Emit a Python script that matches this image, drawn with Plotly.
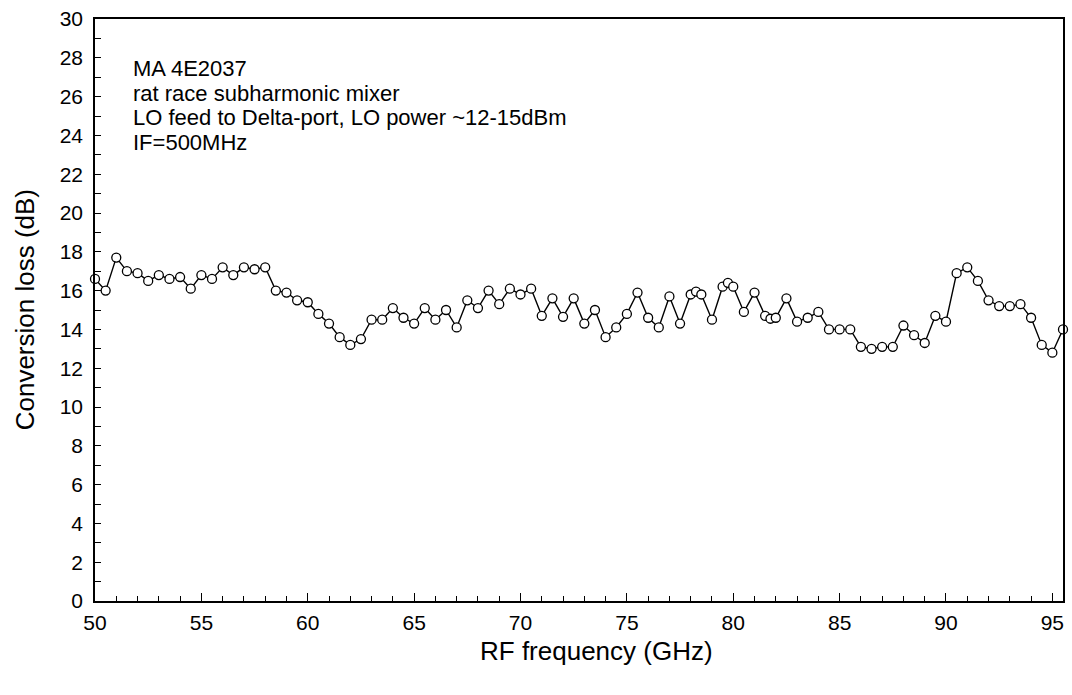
import plotly.graph_objects as go

freq_ghz = [50, 50.5, 51, 51.5, 52, 52.5, 53, 53.5, 54, 54.5,
            55, 55.5, 56, 56.5, 57, 57.5, 58, 58.5, 59, 59.5,
            60, 60.5, 61, 61.5, 62, 62.5, 63, 63.5, 64, 64.5,
            65, 65.5, 66, 66.5, 67, 67.5, 68, 68.5, 69, 69.5,
            70, 70.5, 71, 71.5, 72, 72.5, 73, 73.5, 74, 74.5,
            75, 75.5, 76, 76.5, 77, 77.5, 78, 78.25, 78.5, 79, 79.5, 79.75,
            80, 80.5, 81, 81.5, 81.75, 82, 82.5, 83, 83.5, 84, 84.5,
            85, 85.5, 86, 86.5, 87, 87.5, 88, 88.5, 89, 89.5,
            90, 90.5, 91, 91.5, 92, 92.5, 93, 93.5, 94, 94.5,
            95, 95.5]
conv_loss_db = [16.6, 16.0, 17.7, 17.0, 16.9, 16.5, 16.8, 16.6, 16.7, 16.1,
                16.8, 16.6, 17.2, 16.8, 17.2, 17.1, 17.2, 16.0, 15.9, 15.5,
                15.4, 14.8, 14.3, 13.6, 13.2, 13.5, 14.5, 14.5, 15.1, 14.6,
                14.3, 15.1, 14.5, 15.0, 14.1, 15.5, 15.1, 16.0, 15.3, 16.1,
                15.8, 16.1, 14.7, 15.6, 14.65, 15.6, 14.3, 15.0, 13.6, 14.1,
                14.8, 15.9, 14.6, 14.1, 15.7, 14.3, 15.8, 15.95, 15.8, 14.5, 16.2, 16.4,
                16.2, 14.9, 15.9, 14.7, 14.55, 14.6, 15.6, 14.4, 14.6, 14.9, 14.0,
                14.0, 14.0, 13.1, 13.0, 13.1, 13.1, 14.2, 13.7, 13.3, 14.7,
                14.4, 16.9, 17.2, 16.5, 15.5, 15.2, 15.2, 15.3, 14.6, 13.2,
                12.8, 14.0]

notes = ["MA 4E2037",
         "rat race subharmonic mixer",
         "LO feed to Delta-port, LO power ~12-15dBm",
         "IF=500MHz"]

FONT = "Arial, Liberation Sans, Helvetica, sans-serif"

fig = go.Figure()
fig.add_trace(go.Scatter(
    x=freq_ghz, y=conv_loss_db, mode="lines+markers",
    line=dict(color="black", width=1.4),
    marker=dict(symbol="circle", size=9, color="white",
                line=dict(color="black", width=1.3)),
    cliponaxis=False, showlegend=False))

note_y = [27.45, 26.15, 24.9, 23.65]
for txt, yy in zip(notes, note_y):
    fig.add_annotation(x=51.7, y=yy, xref="x", yref="y", text=txt,
                       showarrow=False, xanchor="left", yanchor="middle",
                       font=dict(family=FONT, size=22, color="black"))

fig.add_annotation(x=0.5185, y=-0.056, xref="paper", yref="paper",
                   text="RF frequency (GHz)", showarrow=False,
                   xanchor="center", yanchor="top",
                   font=dict(family=FONT, size=26, color="black"))
fig.add_annotation(x=-0.072, y=0.5, xref="paper", yref="paper",
                   text="Conversion loss (dB)", showarrow=False, textangle=-90,
                   xanchor="center", yanchor="middle",
                   font=dict(family=FONT, size=26, color="black"))

axis_common = dict(showgrid=False, zeroline=False, showline=True,
                   linecolor="black", linewidth=1.5, mirror=True,
                   ticks="inside", tickcolor="black", tickwidth=1.3,
                   tickfont=dict(family=FONT, size=21, color="black"))

fig.update_xaxes(range=[50, 95.5], tick0=50, dtick=5, ticklen=8,
                 ticklabelstandoff=2,
                 minor=dict(dtick=1, ticks="inside", ticklen=5,
                            tickcolor="black", tickwidth=1.3),
                 **axis_common)
fig.update_yaxes(range=[0, 30], tick0=0, dtick=2, ticklen=6,
                 ticklabelstandoff=6,
                 minor=dict(dtick=1, ticks="inside", ticklen=6,
                            tickcolor="black", tickwidth=1.3),
                 **axis_common)

fig.update_layout(width=1072, height=695,
                  margin=dict(l=95, r=7, t=17, b=94),
                  paper_bgcolor="white", plot_bgcolor="white",
                  font=dict(family=FONT, color="black"))

fig.write_html("out.html")
